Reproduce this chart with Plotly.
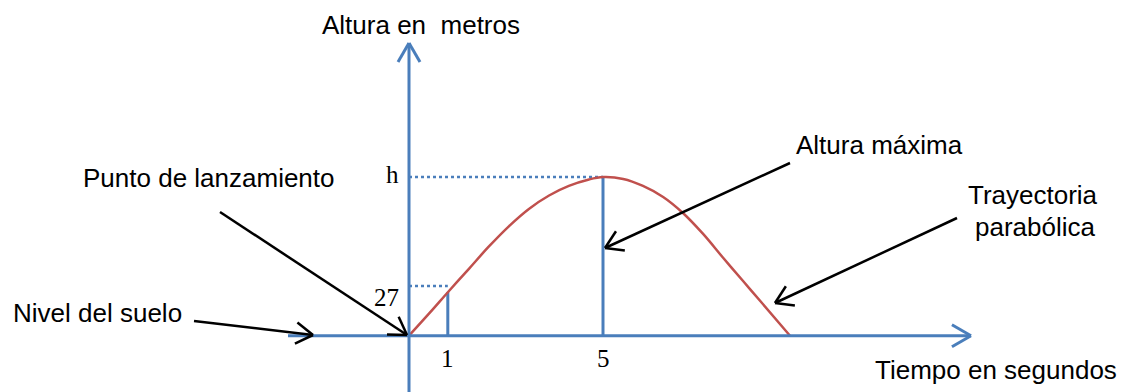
import math

import plotly.graph_objects as go

# Trayectoria parabólica (tiempo en s, altura en m)
tiempo = [0, 0.52, 1.03, 1.55, 2.06, 2.58, 3.09, 3.61, 4.12, 4.64, 5.0,
          5.52, 6.03, 6.55, 7.06, 7.58, 8.09, 8.61, 9.12, 9.82]
altura = [0, 12.1, 24.3, 36.5, 48.5, 59.6, 68.9, 76.2, 81.4, 84.9, 86.2,
          85.2, 81.4, 75.4, 66.7, 55.3, 42.5, 29.7, 17.2, 0]

# marcas verticales en t=1 y t=5
marca_t = [1, 5]
marca_h = [23.7, 86.2]
marca_txt = ["1", "5"]

# guías punteadas hacia el eje vertical
guia_t = [1, 5]
guia_h = [27, 86.2]
guia_txt = ["27", "h"]

W, H = 1130, 392
X0, XS = 409, 38.8     # pixel del origen y px por segundo
Y0, YS = 335.7, 1.84   # pixel del origen y px por metro

BLUE = "#4A7EBB"
RED = "#C0504D"
SANS = "Liberation Sans, Arial, sans-serif"
SERIF = "Liberation Serif, Times New Roman, serif"


def paper(px, py):
    return px / W, 1 - py / H


fig = go.Figure()
shapes = []
annotations = []


def seg(p, q, color, width, dash="solid"):
    x0, y0 = paper(*p)
    x1, y1 = paper(*q)
    shapes.append(dict(type="line", xref="paper", yref="paper",
                       x0=x0, y0=y0, x1=x1, y1=y1,
                       line=dict(color=color, width=width, dash=dash)))


def arrow(start, tip, color, width, size=20, ang=32):
    seg(start, tip, color, width)
    dx, dy = start[0] - tip[0], start[1] - tip[1]
    a = math.atan2(dy, dx)
    for s in (-1, 1):
        b = a + s * math.radians(ang)
        seg(tip, (tip[0] + size * math.cos(b), tip[1] + size * math.sin(b)), color, width)


def label(text, px, py, size=26, font=SANS, xanchor="center"):
    x, y = paper(px, py)
    annotations.append(dict(text=text, x=x, y=y, xref="paper", yref="paper",
                            xanchor=xanchor, yanchor="middle", showarrow=False,
                            font=dict(family=font, size=size, color="black")))


# ejes con flecha
arrow((288, Y0), (971, Y0), BLUE, 3, size=22, ang=30)
arrow((X0, H + 5), (X0, 43), BLUE, 3, size=22, ang=30)

# guías punteadas
for t, h in zip(guia_t, guia_h):
    fig.add_trace(go.Scatter(x=[0, t], y=[h, h], mode="lines",
                             line=dict(color=BLUE, width=2.5, dash="dot"),
                             hoverinfo="skip"))

# marcas verticales
for t, h in zip(marca_t, marca_h):
    fig.add_trace(go.Scatter(x=[t, t], y=[0, h], mode="lines",
                             line=dict(color=BLUE, width=3), hoverinfo="skip"))

# la parábola
fig.add_trace(go.Scatter(x=tiempo, y=altura, mode="lines",
                         line=dict(color=RED, width=2.5, shape="spline", smoothing=1),
                         hoverinfo="skip"))

# flechas negras de anotación
arrow((194, 321), (313, 335), "black", 2.5)
arrow((220, 212), (407, 335), "black", 2.5)
arrow((790, 163), (605, 248), "black", 2.5)
arrow((957, 218), (775, 303), "black", 2.5)

# textos
label("Altura en  metros", 421, 25)
label("Tiempo en segundos", 996, 370)
label("Punto de lanzamiento", 209, 178)
label("Nivel del suelo", 97, 313)
label("Altura máxima", 879, 145)
label("Trayectoria", 1033, 195)
label("parabólica", 1035, 227)

for t, txt in zip(marca_t, marca_txt):
    label(txt, X0 + t * XS, 358, size=25, font=SERIF)
for h, txt in zip(guia_h, guia_txt):
    label(txt, X0 - 8, Y0 - h * YS + (11 if txt == "27" else -3), size=25,
          font=SERIF, xanchor="right")

fig.update_layout(
    width=W, height=H,
    margin=dict(l=0, r=0, t=0, b=0),
    paper_bgcolor="white", plot_bgcolor="white",
    showlegend=False,
    xaxis=dict(range=[-X0 / XS, (W - X0) / XS], visible=False, fixedrange=True),
    yaxis=dict(range=[(Y0 - H) / YS, Y0 / YS], visible=False, fixedrange=True),
    shapes=shapes,
    annotations=annotations,
)

fig.write_html("out.html", config={"displayModeBar": False},
               post_script="document.body.style.margin='0';")
